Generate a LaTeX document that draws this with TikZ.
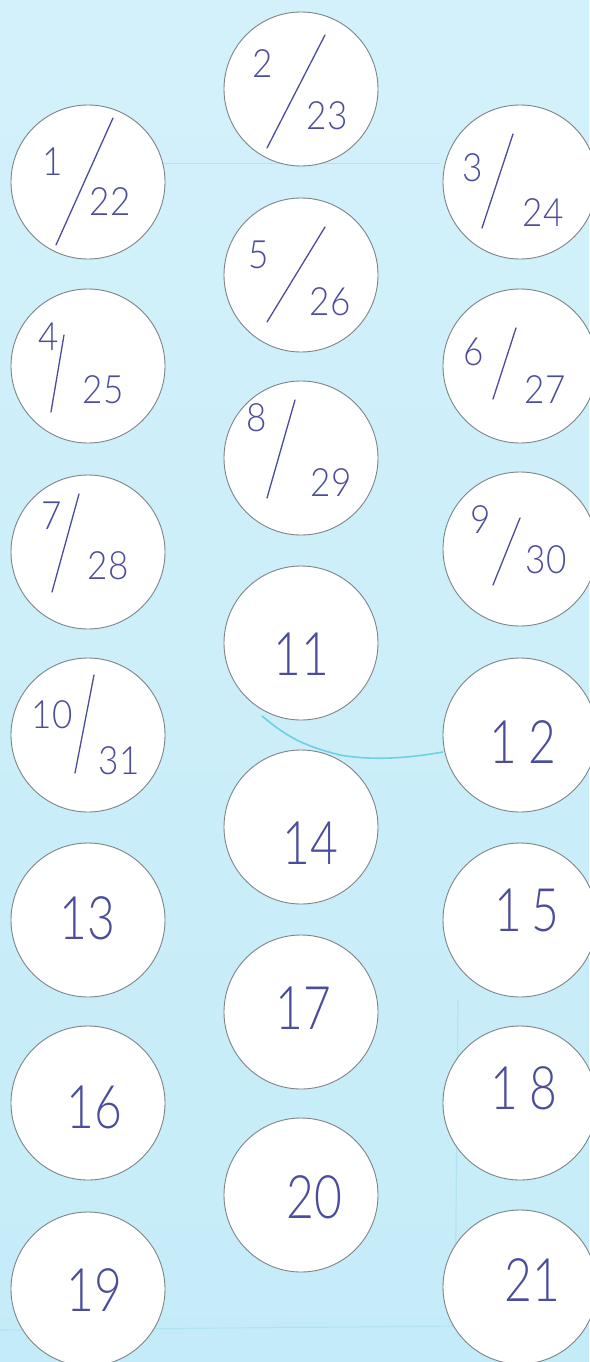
\documentclass[tikz,border=0pt]{standalone}
\usepackage{fontspec}
\IfFontExistsTF{Lato Light}{%
  \newfontfamily\hand[FakeStretch=0.8]{Lato Light}%
  \newfontfamily\hands[FakeStretch=0.9]{Lato Light}}{%
  \newfontfamily\hand[FakeStretch=0.8]{Lato}%
  \newfontfamily\hands[FakeStretch=0.9]{Lato}}
\definecolor{bgtop}{HTML}{D3F1FB}
\definecolor{bgbot}{HTML}{C4ECF8}
\definecolor{pen}{HTML}{4B4D9C}
\definecolor{rim}{HTML}{7E8385}
\definecolor{streak}{HTML}{6FD0E2}
\definecolor{faint}{HTML}{B2E3F2}
\tikzset{
  disc/.style={circle, draw=rim, fill=white, line width=0.9pt, minimum size=154pt, inner sep=0pt},
  bignum/.style={text=pen, inner sep=0pt, font=\hand\fontsize{60}{60}\selectfont},
  smallnum/.style={text=pen, inner sep=0pt, font=\hands\fontsize{39}{39}\selectfont},
  slashline/.style={draw=pen, line width=1.3pt, line cap=round},
}
% #1 name, #2 centre, #3 numerator, #4 its offset, #5 denominator, #6 its offset, #7 #8 slash ends
\newcommand{\fracdisc}[8]{%
  \node[disc] (#1) at #2 {};
  \node[smallnum] (#1n) at ([shift={#4}]#1.center) {#3};
  \node[smallnum] (#1d) at ([shift={#6}]#1.center) {#5};
  \draw[slashline] ([shift={#7}]#1.center) -- ([shift={#8}]#1.center);
}
\newcommand{\numdisc}[4]{%
  \node[disc] (#1) at #2 {};
  \node[bignum] (#1t) at ([shift={#4}]#1.center) {#3};
}
\begin{document}
\begin{tikzpicture}[x=1pt, y=-1pt]
\useasboundingbox (0,0) rectangle (589,1362);
\shade[top color=bgtop, bottom color=bgbot] (0,0) rectangle (589,1362);
% faint scan lines
\draw[faint, line width=1pt] (150,163) -- (440,163);
\draw[faint, line width=1.2pt] (0,1330) -- (455,1326);
\draw[faint, line width=1.2pt] (455,1326) -- (458,1000);
% cyan pen streak
\coordinate (s0) at (262,716);
\coordinate (s1) at (443,752);
\draw[streak, line width=1.6pt] (s0) .. controls (285,735) and (300,745) .. (340,755) .. controls (380,762) and (420,756) .. (s1);

% left column
\fracdisc{c1}{(88,182)}{1}{(-35,-20)}{22}{(22,20)}{(25,-64)}{(-32,63)}
\fracdisc{c4}{(88,366)}{4}{(-39,-29)}{25}{(15,24)}{(-24,-31)}{(-37,46)}
\fracdisc{c7}{(88,552)}{7}{(-36,-36)}{28}{(20,14)}{(-9,-58)}{(-36,40)}
\fracdisc{c10}{(88,735)}{10}{(-36,-20)}{31}{(31,26)}{(6,-60)}{(-13,38)}
\numdisc{c13}{(88,920)}{13}{(-1,-2)}
\numdisc{c16}{(88,1103)}{16}{(6,4)}
\numdisc{c19}{(88,1289)}{19}{(6,1)}

% middle column
\fracdisc{c2}{(301,89)}{2}{(-38,-25)}{23}{(26,27)}{(24,-54)}{(-34,59)}
\fracdisc{c5}{(301,275)}{5}{(-42,-20)}{26}{(29,27)}{(24,-48)}{(-34,47)}
\fracdisc{c8}{(301,458)}{8}{(-44,-40)}{29}{(30,25)}{(-6,-58)}{(-34,40)}
\numdisc{c11}{(301,643)}{11}{(0,11)}
\numdisc{c14}{(301,827)}{14}{(9,16)}
\numdisc{c17}{(301,1012)}{17}{(2,-4)}
\numdisc{c20}{(301,1195)}{20}{(13,2)}

% right column
\fracdisc{c3}{(520,182)}{3}{(-47,-14)}{24}{(23,31)}{(-7,-48)}{(-38,46)}
\fracdisc{c6}{(520,366)}{6}{(-46,-14)}{27}{(25,24)}{(-4,-38)}{(-27,33)}
\fracdisc{c9}{(520,549)}{9}{(-39,-29)}{30}{(26,11)}{(0,-31)}{(-27,36)}
\numdisc{c12}{(520,735)}{1\hspace{12pt}2}{(3,7)}
\numdisc{c15}{(520,920)}{1\hspace{10pt}5}{(7,-10)}
\numdisc{c18}{(520,1103)}{1\hspace{12pt}8}{(4,-15)}
\numdisc{c21}{(520,1287)}{21}{(12,-7)}
\end{tikzpicture}
\end{document}
